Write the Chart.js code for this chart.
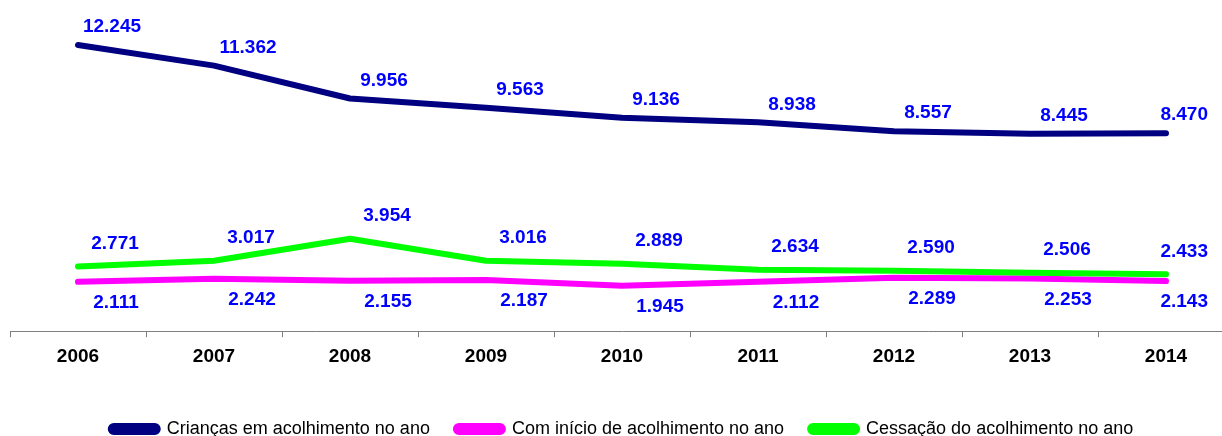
<html>
<head>
    <meta http-equiv="Content-Type" content="text/html; charset=utf-8"/>
    <title></title>
    <style>
        body { margin: 0; overflow: hidden; background: #fff; }
        .chart { width: 1222px; height: 436px; overflow: hidden; }
    </style>
</head>
<body>
<div class="chart">
    <canvas id="line" width="1240" height="436"></canvas>
</div>

<script src="https://cdn.jsdelivr.net/npm/chart.js@4/dist/chart.umd.min.js"></script>
<script>
    var years = ["2006", "2007", "2008", "2009", "2010", "2011", "2012", "2013", "2014"];
    var criancas = [12245, 11362, 9956, 9563, 9136, 8938, 8557, 8445, 8470];
    var inicio = [2111, 2242, 2155, 2187, 1945, 2112, 2289, 2253, 2143];
    var cessacao = [2771, 3017, 3954, 3016, 2889, 2634, 2590, 2506, 2433];
    var seriesNames = ["Crianças em acolhimento no ano", "Com início de acolhimento no ano", "Cessação do acolhimento no ano"];

    // 12245 -> "12.245"
    function fmt(v) {
        return String(v).replace(/\B(?=(\d{3})+(?!\d))/g, ".");
    }

    var valueLabels = {
        id: 'valueLabels',
        afterDatasetsDraw: function (chart) {
            var ctx = chart.ctx;
            ctx.save();
            ctx.font = 'bold 19px "Liberation Sans", Arial, sans-serif';
            ctx.fillStyle = '#0000ff';
            ctx.textAlign = 'center';
            ctx.textBaseline = 'middle';
            chart.data.datasets.forEach(function (ds, i) {
                var meta = chart.getDatasetMeta(i);
                meta.data.forEach(function (pt, j) {
                    var txt = fmt(ds.data[j]);
                    var w = ctx.measureText(txt).width;
                    var x = pt.x + ds.labelDx;
                    if (x + w / 2 > 1208) x = 1208 - w / 2;
                    ctx.fillText(txt, x, pt.y + ds.labelDy);
                });
            });
            ctx.restore();
        }
    };

    var ctx = document.getElementById("line").getContext("2d");
    var chart = new Chart(ctx, {
        type: 'line',
        data: {
            labels: years,
            datasets: [
                {
                    label: seriesNames[0],
                    data: criancas,
                    borderColor: '#000080',
                    backgroundColor: '#000080',
                    labelDx: 34, labelDy: -18,
                    order: 3
                },
                {
                    label: seriesNames[1],
                    data: inicio,
                    borderColor: '#ff00ff',
                    backgroundColor: '#ff00ff',
                    labelDx: 38, labelDy: 21,
                    order: 2
                },
                {
                    label: seriesNames[2],
                    data: cessacao,
                    borderColor: '#00ff00',
                    backgroundColor: '#00ff00',
                    labelDx: 37, labelDy: -23,
                    order: 1
                }
            ]
        },
        options: {
            responsive: false,
            animation: false,
            layout: {padding: {left: 10, right: 6, top: 4, bottom: -12}},
            elements: {
                line: {borderWidth: 6, tension: 0, borderCapStyle: 'round', borderJoinStyle: 'round'},
                point: {radius: 0, hoverRadius: 0}
            },
            scales: {
                x: {
                    offset: true,
                    grid: {offset: true, drawOnChartArea: false, tickLength: 6, color: '#7f7f7f'},
                    border: {display: true, color: '#7f7f7f', width: 1},
                    ticks: {
                        color: '#000',
                        padding: 8,
                        font: {family: '"Liberation Sans", Arial, sans-serif', size: 19, weight: 'bold'}
                    },
                    afterFit: function (scale) {
                        scale.height += 18;
                    }
                },
                y: {
                    display: false,
                    min: 0,
                    max: 14000
                }
            },
            plugins: {
                tooltip: {enabled: false},
                legend: {
                    position: 'bottom',
                    labels: {
                        color: '#000',
                        boxWidth: 47,
                        boxHeight: 6,
                        useBorderRadius: true,
                        borderRadius: 3,
                        padding: 26,
                        sort: function (a, b) { return a.datasetIndex - b.datasetIndex; },
                        font: {family: '"Liberation Sans", Arial, sans-serif', size: 18}
                    }
                }
            }
        },
        plugins: [valueLabels]
    });
</script>
</body>
</html>
